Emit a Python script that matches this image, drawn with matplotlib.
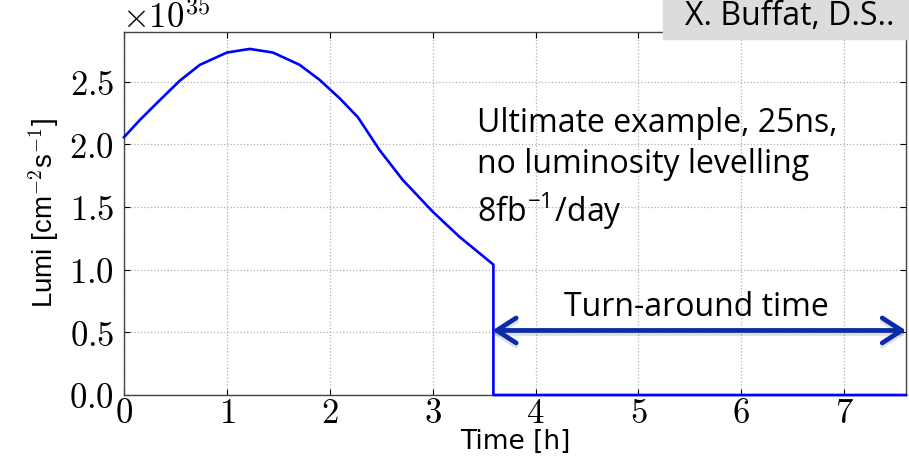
import matplotlib
matplotlib.use("Agg")
import matplotlib.pyplot as plt
import matplotlib.patches as mpatches
from matplotlib.ticker import FormatStrFormatter

# luminosity curve (units of 1e35 cm^-2 s^-1), time in hours
time_h = [0.0, 0.155, 0.35, 0.543, 0.737, 1.0, 1.222, 1.448, 1.707, 1.90, 2.095, 2.273,
          2.483, 2.709, 3.0, 3.259, 3.59, 3.59, 7.6]
lumi = [2.057, 2.195, 2.354, 2.508, 2.634, 2.732, 2.761, 2.732, 2.634, 2.515, 2.368, 2.216,
        1.955, 1.716, 1.463, 1.263, 1.04, 0.0, 0.0]

turn_start, turn_end, turn_level = 3.58, 7.6, 0.515
xticks = [0, 1, 2, 3, 4, 5, 6, 7]
yticks = [0.0, 0.5, 1.0, 1.5, 2.0, 2.5]

plt.rcParams['mathtext.fontset'] = 'cm'

fig = plt.figure(figsize=(9.09, 4.57), dpi=100)
ax = fig.add_axes([124 / 909, 1 - 395 / 457, (906 - 124) / 909, (395 - 31.5) / 457])

ax.plot(time_h, lumi, color='#0000ff', lw=1.9, clip_on=False, zorder=3,
        solid_joinstyle='round')

ax.set_xlim(0, 7.6)
ax.set_ylim(0, 2.9)
ax.set_xticks(xticks)
ax.set_yticks(yticks)
ax.xaxis.set_major_formatter(FormatStrFormatter('$%d$'))
ax.yaxis.set_major_formatter(FormatStrFormatter('$%.1f$'))
ax.tick_params(direction='in', length=4, labelsize=25, top=True, right=True, pad=7)
ax.tick_params(axis='x', pad=1)
ax.grid(True, linestyle=':', color='#b0b0b0', lw=0.9)
for s in ax.spines.values():
    s.set_color('#444444')
    s.set_linewidth(1.0)

# multiplier on top
ax.text(-0.003, 0.99, r'$\times 10^{35}$', transform=ax.transAxes, fontsize=25,
        ha='left', va='bottom')

ax.set_xlabel('Time [h]', family='DejaVu Sans', fontsize=19, labelpad=-1)
ax.set_ylabel(r'Lumi [cm$^{-2}$s$^{-1}$]', family=['Liberation Sans Narrow', 'Liberation Sans'],
              fontsize=20, labelpad=6)

# annotation text
ax.text(3.43, 1.80, 'Ultimate example, 25ns,\nno luminosity levelling\n8fb$^{\\mathregular{-1}}$/day',
        family='Open Sans', fontsize=23, ha='left', va='center', linespacing=1.33)

# turn-around arrow (with soft shadow)
ax.annotate('', xy=(turn_end, turn_level - 0.025), xytext=(turn_start, turn_level - 0.025),
            arrowprops=dict(arrowstyle='<->, head_length=0.7, head_width=0.45',
                            mutation_scale=20, lw=3.4, color='#000000', alpha=0.12,
                            shrinkA=0, shrinkB=0), annotation_clip=False, zorder=4)
ax.annotate('', xy=(turn_end, turn_level), xytext=(turn_start, turn_level),
            arrowprops=dict(arrowstyle='<->, head_length=0.7, head_width=0.45',
                            mutation_scale=20, lw=3.4, color='#0a2aa8',
                            shrinkA=0, shrinkB=0, capstyle='round'),
            annotation_clip=False, zorder=5)
ax.text(5.56, 0.70, 'Turn-around time',
        family='Open Sans', fontsize=23, ha='center', va='center')

# author box at top right
fig.patches.append(mpatches.Rectangle((663 / 909, 1 - 39 / 457), 246 / 909, 39 / 457,
                                      transform=fig.transFigure, color='#dcdcdc', zorder=10))
fig.text(790 / 909, 1 - 25 / 457, 'X. Buffat, D.S..', family='Open Sans', fontsize=23,
         ha='center', va='baseline', zorder=11)

fig.savefig('out.png', dpi=100)
